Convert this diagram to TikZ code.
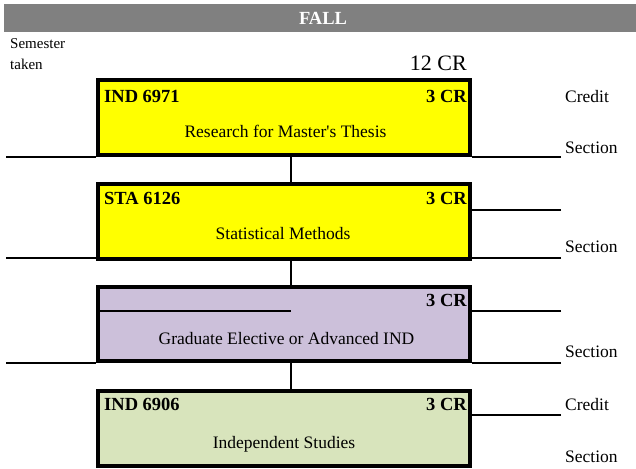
\documentclass[tikz,border=0pt]{standalone}
\usepackage{fontspec}
\setmainfont{Liberation Serif}[Ligatures=TeXOff]
\usetikzlibrary{positioning}

\definecolor{headgray}{RGB}{128,128,128}
\definecolor{boxyellow}{RGB}{255,255,0}
\definecolor{lavender}{RGB}{204,192,218}
\definecolor{palegreen}{RGB}{216,228,188}

\tikzset{
    course/.style={draw, line width=4pt, rectangle, inner sep=0pt,
        minimum width=372pt, minimum height=74.5pt},
    code/.style={font=\fontsize{18.5}{20}\selectfont\bfseries, inner sep=0pt},
    title/.style={font=\fontsize{17.5}{20}\selectfont, inner sep=0pt},
    side/.style={font=\fontsize{17.5}{20}\selectfont, inner sep=0pt, anchor=west},
    rule/.style={line width=2pt}
}

\begin{document}
\begin{tikzpicture}[x=1pt, y=-1pt]
    \useasboundingbox (0,0) rectangle (636,468);

    % Header bar
    \fill[headgray] (4,4) rectangle (636,32);
    \node[code, text=white] (fall) at (323,18.5) {FALL};
    \node[side, font=\fontsize{15}{17}\selectfont] (sem) at (10,43.5) {Semester};
    \node[side, font=\fontsize{15}{17}\selectfont] (taken) at (10,64) {taken};
    \node[title, font=\fontsize{22}{24}\selectfont, anchor=east] (total) at (467,63) {12 CR};

    % Course boxes
    \node[course, fill=boxyellow] (b1) at (284,117.25) {};
    \node[course, fill=boxyellow] (b2) at (284,221.25) {};
    \node[course, fill=lavender] (b3) at (284,323.75) {};
    \node[course, fill=palegreen] (b4) at (284,428.25) {};

    % Connectors between boxes
    \coordinate (mid) at (291,0);
    \draw[rule] (b1.south -| mid) -- (b2.north -| mid);
    \draw[rule] (b2.south -| mid) -- (b3.north -| mid);
    \draw[rule] (b3.south -| mid) -- (b4.north -| mid);

    % Box 1
    \node[code, anchor=west] (c1) at (104,96) {IND 6971};
    \node[code, anchor=east] (cr1) at (467,96) {3 CR};
    \node[title] (t1) at (285.5,131) {Research for Master's Thesis};
    \node[side] (cd1) at (565,97) {Credit};
    \node[side] (s1) at (565,147.5) {Section};
    \coordinate (l1) at (6,156.7);
    \coordinate (r1) at (561,157);
    \draw[rule] (l1) -- (l1 -| b1.west);
    \draw[rule] (r1) -- (r1 -| b1.east);

    % Box 2
    \node[code, anchor=west] (c2) at (104,198.5) {STA 6126};
    \node[code, anchor=east] (cr2) at (467,198.5) {3 CR};
    \node[title] (t2) at (283,234) {Statistical Methods};
    \node[side] (s2) at (565,246.5) {Section};
    \coordinate (l2) at (6,257.7);
    \coordinate (r2a) at (561,210);
    \coordinate (r2b) at (561,257.7);
    \draw[rule] (l2) -- (l2 -| b2.west);
    \draw[rule] (r2a) -- (r2a -| b2.east);
    \draw[rule] (r2b) -- (r2b -| b2.east);

    % Box 3
    \node[code, anchor=east] (cr3) at (467,300) {3 CR};
    \node[title] (t3) at (286.5,338.5) {Graduate Elective or Advanced IND};
    \node[side] (s3) at (565,351.5) {Section};
    \coordinate (g3) at (291,310.7);
    \coordinate (l3) at (6,362.7);
    \coordinate (r3a) at (561,310.7);
    \coordinate (r3b) at (561,362.7);
    \draw[rule] (g3 -| b3.west) -- (g3);
    \draw[rule] (l3) -- (l3 -| b3.west);
    \draw[rule] (r3a) -- (r3a -| b3.east);
    \draw[rule] (r3b) -- (r3b -| b3.east);

    % Box 4
    \node[code, anchor=west] (c4) at (104,404.5) {IND 6906};
    \node[code, anchor=east] (cr4) at (467,404.5) {3 CR};
    \node[title] (t4) at (284,444) {Independent Studies};
    \node[side] (cd4) at (565,405) {Credit};
    \node[side] (s4) at (565,456.5) {Section};
    \coordinate (r4) at (561,415.3);
    \draw[rule] (r4) -- (r4 -| b4.east);
\end{tikzpicture}
\end{document}
